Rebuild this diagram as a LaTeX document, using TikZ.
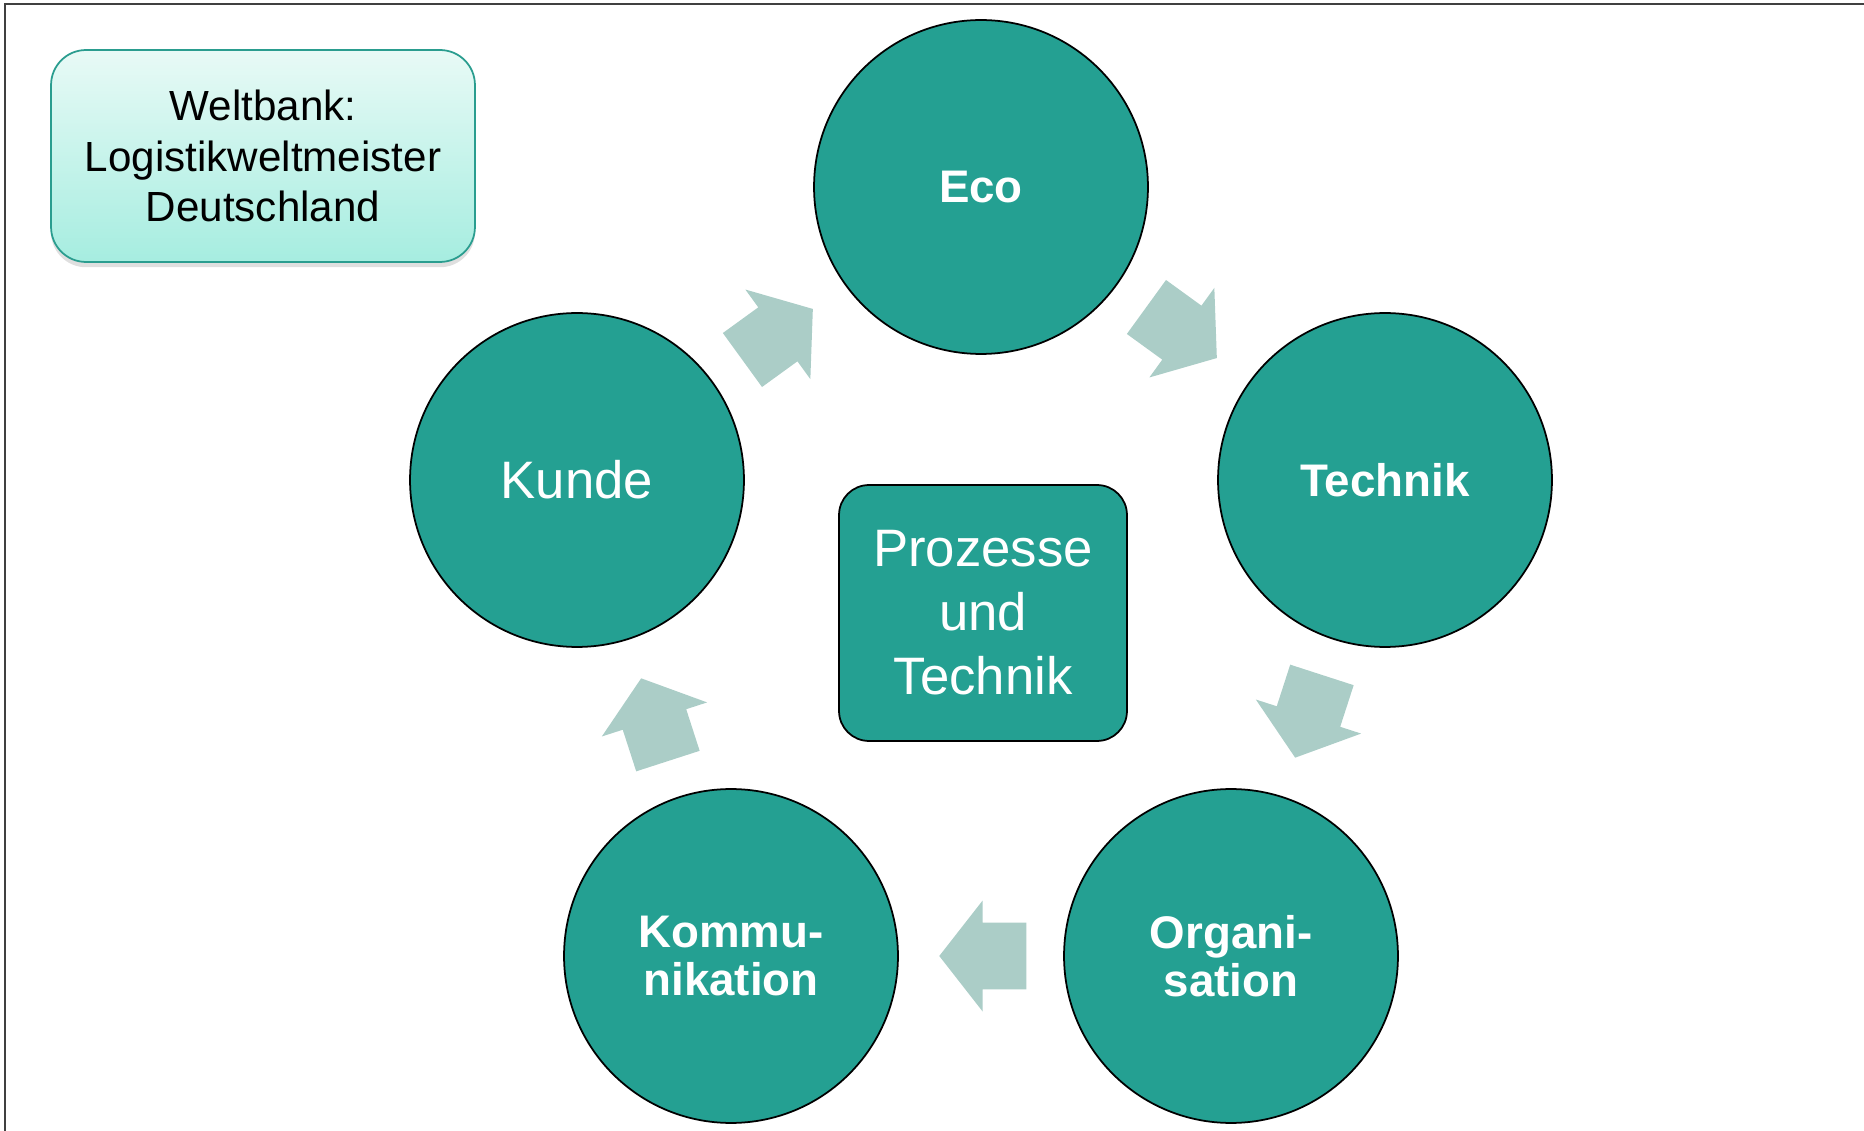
\documentclass[tikz,border=0pt]{standalone}
\usepackage{fontspec}
\setmainfont{Liberation Sans}
\usetikzlibrary{shapes,arrows,positioning,calc,shadows}

\definecolor{stageteal}{HTML}{24A092}
\definecolor{flowgray}{HTML}{ABCDC7}
\definecolor{boxedge}{HTML}{2A9D8F}
\definecolor{boxtop}{HTML}{E8FAF6}
\definecolor{boxbottom}{HTML}{A6EDE0}

\begin{document}
\begin{tikzpicture}[
    x=0.02cm, y=-0.02cm,
    stage/.style={circle, draw=black, line width=1pt, fill=stageteal, minimum size=6.68cm, inner sep=0pt, text=white, align=center},
    boldlabel/.style={font=\fontsize{26}{27}\selectfont\bfseries},
    plainlabel/.style={font=\fontsize{30}{36.4}\selectfont},
    flow/.style={single arrow, fill=flowgray, draw=none, minimum height=1.74cm, minimum width=2.2cm, single arrow head extend=0.44cm, single arrow tip angle=104, inner xsep=0pt, inner ysep=0.66cm, pos=0.41, sloped, allow upside down},
    infobox/.style={rectangle, rounded corners=0.7cm, draw=boxedge, line width=1pt, top color=boxtop, bottom color=boxbottom, minimum width=8.48cm, minimum height=4.24cm, align=center, font=\fontsize{24}{28.6}\selectfont, drop shadow={shadow xshift=0pt, shadow yshift=-3pt, opacity=0.25}}
]
    \useasboundingbox (0,0) rectangle (1864,1131);

    % Frame
    \draw[line width=1.2pt, black!75] (5,1131) -- (5,4) -- (1864,4);

    % Info box
    \node[infobox] (weltbank) at (263,156) {Weltbank:\\Logistikweltmeister\\Deutschland};

    % Cycle
    \node[stage, boldlabel] (eco) at (981,187) {Eco};
    \node[stage, boldlabel] (technik) at (1385,480) {Technik};
    \node[stage, boldlabel] (organisation) at (1231,956) {Organi-\\sation};
    \node[stage, boldlabel] (kommunikation) at (731,956) {Kommu-\\nikation};
    \node[stage, plainlabel] (kunde) at (577,480) {Kunde};

    % Center
    \node[rectangle, rounded corners=0.6cm, draw=black, line width=1pt, fill=stageteal, text=white, align=center, plainlabel, minimum width=5.76cm, minimum height=5.12cm] (prozesse) at (983,613) {Prozesse\\und\\Technik};

    % Arrows
    \path (eco) -- node[flow] (f1) {} (technik);
    \path (technik) -- node[flow] (f2) {} (organisation);
    \path (organisation) -- node[flow] (f3) {} (kommunikation);
    \path (kommunikation) -- node[flow] (f4) {} (kunde);
    \path (kunde) -- node[flow] (f5) {} (eco);
\end{tikzpicture}
\end{document}
